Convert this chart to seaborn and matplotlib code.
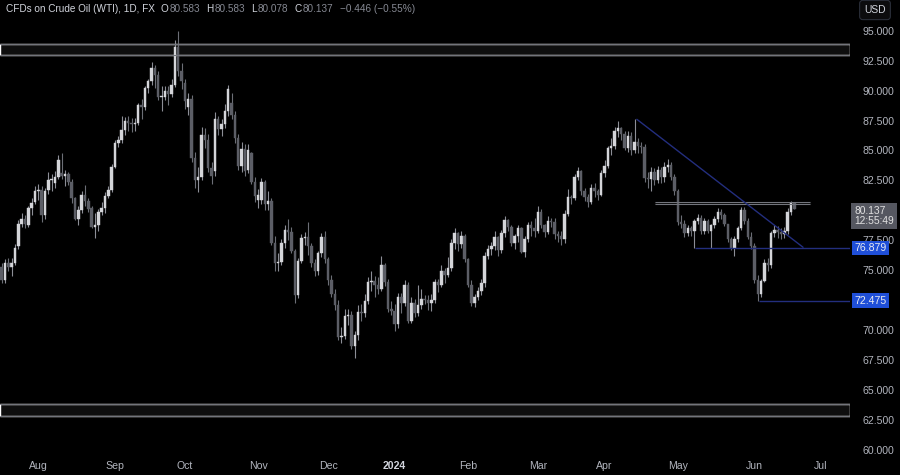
import numpy as np
import pandas as pd
import matplotlib
matplotlib.use("Agg")
import matplotlib.pyplot as plt
import seaborn as sns

# ---------------- data (daily OHLC, Jul 17 2023 -> Jun 19 2024) ----------------
opens = [
    # Jul
    75.3, 74.2, 75.6, 75.3, 75.6, 77.0, 78.9, 79.3, 78.8, 80.2, 80.7,
    # Aug
    81.6, 81.7, 79.6, 81.7, 82.5, 82.3, 82.8, 83.1, 82.9, 83.0, 82.4, 81.0, 79.3, 80.0, 81.3, 80.8, 80.2, 78.6, 78.8, 79.9, 80.2, 81.2, 81.7,
    # Sep
    83.6, 85.6, 85.9, 86.7, 87.5, 87.3, 87.2, 87.3, 88.8, 88.6, 90.2, 90.8, 91.9, 91.3, 89.5, 89.5, 90.0, 89.7, 90.5, 93.6, 91.6,
    # Oct
    90.6, 88.6, 89.3, 84.4, 82.5, 82.8, 86.3, 85.9, 83.5, 83.3, 87.6, 86.8, 87.2, 88.3, 89.0, 88.0, 86.0, 83.7, 85.1, 83.4, 84.8, 82.4,
    # Nov
    80.9, 80.9, 82.4, 80.5, 80.8, 77.3, 75.6, 75.7, 77.3, 78.4, 78.2, 76.6, 72.9, 75.8, 77.7, 77.8, 77.0, 75.6, 74.9, 76.4, 77.8,
    # Dec
    75.9, 74.2, 73.0, 72.1, 69.4, 69.5, 71.2, 71.3, 68.7, 69.6, 71.5, 71.4, 72.4, 74.0, 74.1, 73.8, 73.4, 75.4, 74.0, 71.8,
    # Jan
    71.6, 70.5, 72.8, 72.3, 73.8, 70.8, 72.3, 71.4, 72.1, 72.6, 72.5, 72.3, 72.5, 74.0, 73.8, 74.9, 74.6, 75.2, 77.3, 78.1, 77.2, 77.9,
    # Feb
    75.9, 73.8, 72.3, 72.8, 73.3, 73.9, 76.2, 76.8, 77.0, 77.8, 76.7, 78.1, 79.2, 78.6, 77.3, 77.9, 78.5, 76.5, 77.6, 78.8, 78.5,
    # Mar
    78.3, 79.9, 78.8, 78.2, 79.1, 79.0, 78.0, 77.9, 77.6, 79.7, 81.1, 81.0, 82.8, 83.3, 81.6, 81.1, 80.7, 81.9, 81.6, 81.3,
    # Apr
    83.1, 83.7, 85.2, 85.4, 86.6, 86.9, 86.4, 85.2, 86.2, 85.0, 85.7, 85.4, 85.3, 82.7, 82.6, 83.2, 82.5, 83.4, 82.8, 83.6, 83.8, 82.8,
    # May
    81.6, 79.0, 78.9, 78.1, 78.5, 78.3, 79.1, 79.4, 78.3, 79.1, 78.3, 78.8, 79.3, 79.9, 79.6, 78.9, 77.6, 76.9, 77.6, 78.5, 80.0, 79.1, 77.8,
    # Jun
    77.0, 74.2, 73.0, 74.1, 75.6, 75.4, 78.1, 78.4, 78.2, 78.0, 78.3, 79.9, 80.583,
]
highs = [
    75.6, 75.9, 76.0, 76.0, 77.2, 79.2, 79.8, 79.6, 80.4, 81.0, 82.0,
    82.2, 82.0, 81.9, 83.2, 83.0, 83.3, 84.6, 84.8, 83.4, 83.2, 82.6, 81.1, 80.4, 81.6, 82.1, 81.0, 80.4, 79.8, 80.1, 80.7, 81.5, 82.0, 83.9,
    85.9, 86.2, 87.9, 87.8, 87.9, 87.7, 87.7, 89.0, 89.3, 90.4, 91.0, 92.4, 92.1, 91.6, 90.4, 90.4, 90.4, 91.0, 94.2, 95.0, 92.3,
    91.0, 89.8, 89.6, 84.9, 83.6, 87.0, 86.9, 86.4, 84.0, 88.2, 87.9, 87.6, 88.9, 90.5, 89.8, 88.3, 86.4, 85.7, 85.5, 85.5, 84.9, 82.8,
    81.8, 82.7, 82.5, 81.6, 81.0, 77.9, 76.4, 77.6, 78.8, 79.3, 78.6, 76.8, 76.0, 78.0, 78.2, 79.0, 77.3, 75.9, 76.6, 78.1, 78.3,
    76.1, 74.6, 73.4, 72.5, 70.3, 71.8, 71.8, 71.6, 69.9, 72.1, 72.2, 73.0, 74.4, 74.9, 74.5, 74.4, 76.2, 75.6, 74.3, 72.4,
    72.2, 73.1, 73.1, 74.2, 74.0, 72.8, 72.6, 73.8, 73.4, 72.9, 72.9, 73.0, 74.3, 74.3, 75.4, 75.2, 76.1, 77.6, 78.5, 78.2, 78.3, 78.0,
    76.0, 74.2, 73.0, 73.6, 74.3, 76.5, 77.1, 77.4, 78.3, 77.9, 78.4, 79.5, 79.3, 78.8, 78.0, 78.8, 78.6, 77.9, 79.0, 79.1, 79.4,
    80.4, 80.1, 78.9, 79.5, 79.4, 79.4, 78.3, 78.3, 80.0, 81.8, 81.3, 83.0, 83.6, 83.4, 81.9, 81.4, 82.2, 82.3, 81.8, 83.4,
    84.2, 85.4, 86.0, 87.0, 87.5, 87.0, 86.6, 86.6, 86.5, 87.6, 86.0, 85.7, 85.5, 83.2, 83.6, 83.5, 83.7, 83.6, 84.0, 84.3, 84.0, 83.0,
    81.8, 79.6, 79.2, 78.8, 78.7, 79.3, 79.7, 79.6, 79.4, 79.3, 78.9, 79.5, 80.2, 80.1, 79.8, 78.9, 77.8, 77.9, 78.7, 80.3, 80.3, 79.4, 78.2,
    77.3, 74.6, 74.3, 75.9, 76.0, 78.3, 78.8, 78.7, 78.5, 78.6, 80.2, 80.75, 80.583,
]
lows = [
    73.9, 73.9, 74.9, 74.5, 75.4, 76.8, 78.6, 78.5, 78.6, 79.6, 80.5,
    80.9, 79.0, 79.3, 81.4, 81.6, 81.9, 82.6, 82.6, 82.0, 82.1, 80.6, 79.2, 78.8, 79.8, 80.4, 79.9, 78.5, 77.7, 78.3, 79.6, 79.8, 81.0, 81.5,
    83.5, 85.3, 85.6, 86.3, 86.6, 86.5, 86.6, 87.1, 87.6, 88.4, 89.8, 90.5, 90.2, 89.2, 88.3, 89.2, 88.8, 89.5, 90.3, 91.2, 90.1,
    88.5, 88.0, 84.0, 81.9, 81.5, 82.5, 85.2, 83.2, 82.2, 82.9, 86.3, 86.2, 86.9, 87.9, 87.6, 85.6, 83.4, 83.2, 82.9, 83.1, 82.2, 80.7,
    80.2, 80.5, 80.0, 80.0, 77.1, 74.9, 74.9, 75.4, 76.9, 77.5, 76.4, 72.3, 72.7, 75.6, 77.1, 76.3, 75.3, 74.5, 74.6, 76.1, 75.6,
    73.8, 72.8, 71.7, 69.2, 68.9, 69.3, 70.4, 68.4, 67.7, 69.2, 70.8, 71.1, 72.2, 73.3, 72.8, 73.0, 73.3, 73.7, 71.5, 71.3,
    69.9, 70.2, 71.4, 72.0, 70.6, 70.6, 71.1, 71.2, 71.8, 72.2, 71.7, 71.6, 72.3, 73.2, 73.6, 73.9, 74.4, 74.9, 76.8, 76.6, 76.9, 75.7,
    73.6, 72.0, 71.9, 72.5, 72.9, 73.6, 75.9, 76.3, 76.7, 76.2, 76.4, 77.8, 78.3, 77.0, 76.8, 77.4, 76.4, 76.1, 77.4, 77.9, 77.8,
    78.1, 78.5, 77.8, 78.0, 78.6, 77.6, 77.4, 77.1, 77.3, 79.5, 80.5, 80.9, 82.5, 81.3, 80.8, 80.3, 80.5, 81.1, 80.9, 81.2,
    82.8, 83.5, 84.6, 85.1, 86.1, 85.9, 85.0, 84.9, 84.6, 84.8, 84.8, 84.8, 82.4, 81.9, 81.6, 82.1, 82.3, 82.3, 82.4, 83.2, 82.5, 81.3,
    78.8, 78.5, 77.8, 77.9, 77.9, 76.9, 78.9, 78.0, 78.0, 78.1, 76.9, 78.5, 79.0, 79.3, 78.7, 77.4, 76.7, 76.2, 77.4, 78.4, 78.9, 77.6, 76.8,
    73.9, 72.475, 72.8, 74.0, 74.9, 75.2, 77.8, 77.7, 77.6, 77.7, 78.0, 79.6, 80.078,
]
closes = [
    74.2, 75.6, 75.3, 75.6, 76.9, 78.9, 79.3, 78.9, 80.2, 80.6, 81.6,
    81.7, 79.6, 81.6, 82.5, 82.6, 82.8, 84.2, 82.9, 83.0, 82.4, 81.0, 79.3, 80.0, 81.3, 80.8, 80.1, 78.6, 78.8, 79.9, 80.2, 81.2, 81.7, 83.6,
    85.6, 85.9, 86.7, 87.5, 87.3, 87.2, 87.3, 88.8, 88.6, 90.2, 90.8, 91.9, 91.3, 89.5, 89.5, 90.0, 89.7, 90.5, 93.6, 91.6, 90.8,
    89.1, 89.3, 84.4, 82.5, 82.8, 86.3, 85.9, 83.5, 82.9, 87.6, 86.8, 87.2, 88.3, 90.1, 88.0, 86.0, 83.7, 85.1, 83.3, 85.0, 82.4, 81.2,
    81.3, 82.4, 80.5, 80.8, 77.3, 75.6, 75.7, 77.3, 78.4, 78.2, 76.6, 72.9, 75.8, 77.7, 77.8, 77.0, 75.6, 74.9, 76.4, 77.8, 75.9,
    74.2, 73.0, 72.1, 69.4, 69.5, 71.2, 71.3, 68.7, 69.6, 71.5, 71.4, 72.4, 74.0, 74.1, 73.8, 73.4, 75.4, 74.0, 71.8, 71.6,
    70.5, 72.8, 72.3, 73.8, 70.8, 72.3, 71.4, 72.1, 72.6, 72.5, 72.3, 72.5, 74.0, 73.8, 74.9, 74.6, 75.2, 77.3, 78.1, 77.2, 77.9, 75.9,
    73.8, 72.3, 72.8, 73.3, 73.9, 76.2, 76.8, 77.0, 77.8, 76.7, 78.1, 79.2, 78.6, 77.3, 77.9, 78.5, 76.5, 77.6, 78.8, 78.5, 78.3,
    79.9, 78.8, 78.2, 79.1, 79.0, 78.0, 77.9, 77.6, 79.7, 81.1, 81.0, 82.8, 83.3, 81.6, 81.1, 80.7, 81.9, 81.6, 81.3, 83.1,
    83.7, 85.2, 85.4, 86.6, 86.9, 86.4, 85.2, 86.2, 85.0, 85.7, 85.4, 85.3, 82.7, 82.6, 83.2, 82.5, 83.4, 82.8, 83.6, 83.8, 82.8, 81.6,
    79.0, 78.9, 78.1, 78.5, 78.3, 79.1, 79.4, 78.3, 79.1, 78.3, 78.8, 79.3, 79.9, 79.6, 78.9, 77.6, 76.9, 77.6, 78.5, 80.0, 79.1, 77.8, 77.0,
    74.2, 73.0, 74.1, 75.6, 75.4, 78.1, 78.4, 78.2, 78.0, 78.3, 79.9, 80.583, 80.137,
]

start_date = "2023-07-17"
calendar_end = "2024-07-31"
closed_days = ["2023-11-23", "2023-12-25", "2024-01-01", "2024-03-29"]
month_labels = ["Aug", "Sep", "Oct", "Nov", "Dec", "2024", "Feb", "Mar", "Apr", "May", "Jun", "Jul"]
price_ticks = [60.0, 62.5, 65.0, 67.5, 70.0, 75.0, 77.5, 82.5, 85.0, 87.5, 90.0, 92.5, 95.0]

header_title = "CFDs on Crude Oil (WTI), 1D, FX"
header_fields = [("O", "80.583"), ("H", "80.583"), ("L", "80.078"), ("C", "80.137")]
header_change = "\u22120.446 (\u22120.55%)"
countdown = "12:55:49"

# drawings (price levels / trend line)
top_zone = (93.0, 93.9)
bottom_zone = (62.8, 63.87)
resist_zone = (80.5, 80.68)
resist_x = (196.3, 242.7)
trend_x = [190.7, 240.6]
trend_y = [87.6, 76.92]
level_hi = 76.879
level_hi_x0 = 208.3
level_lo = 72.475
level_lo_x0 = 227.3
last_price = 80.137

# ---------------- style ----------------
sns.set_theme(style="dark", rc={
    "figure.facecolor": "#000000",
    "axes.facecolor": "#000000",
    "axes.edgecolor": "#000000",
    "axes.grid": False,
})
plt.rcParams["font.family"] = ["Liberation Sans", "DejaVu Sans"]

TXT = "#b2b5be"
UP_BODY = "#d4d5d9"
UP_WICK = "#8c8e96"
DN_BODY = "#5c5e66"
DN_WICK = "#6c6e76"
NAVY = "#232e7e"
ZONE_LINE = "#73757c"
ZONE_FILL = "#0e0e0e"

cal = pd.bdate_range(start_date, calendar_end)
cal = cal[~cal.isin(pd.to_datetime(closed_days))]
n = len(closes)
df = pd.DataFrame({"open": opens, "high": highs, "low": lows, "close": closes})
df["x"] = np.arange(n)
df["date"] = cal[:n]
df["up"] = df["close"] >= df["open"]

fig = plt.figure(figsize=(9, 4.75), dpi=100)
ax = fig.add_axes([0, 20 / 475, 850 / 900, 455 / 475])
ax.set_facecolor("#000000")

# zones
for lo, hi in (top_zone, bottom_zone):
    ax.axhspan(lo, hi, facecolor=ZONE_FILL, zorder=0.5)
    ax.axhline(lo, color=ZONE_LINE, lw=0.75, zorder=3)
    ax.axhline(hi, color=ZONE_LINE, lw=0.75, zorder=3)
ax.fill_between(resist_x, resist_zone[0], resist_zone[1], color=ZONE_FILL, zorder=0.5)
ax.hlines(list(resist_zone), resist_x[0], resist_x[1], color=ZONE_LINE, lw=0.75, zorder=3)

# candles
for up, wc, bc in ((True, UP_WICK, UP_BODY), (False, DN_WICK, DN_BODY)):
    d = df[df["up"] == up]
    ax.vlines(d["x"], d["low"], d["high"], color=wc, lw=0.8, zorder=2)
    h = (d["close"] - d["open"]).abs().clip(lower=0.06)
    ax.bar(d["x"], h, bottom=d[["open", "close"]].min(axis=1), width=0.74,
           color=bc, edgecolor=bc, linewidth=0.3, zorder=2.5)

# navy drawings
ax.plot(trend_x, trend_y, color=NAVY, lw=1.0, zorder=3)
ax.hlines(level_hi, level_hi_x0, 300, color=NAVY, lw=1.0, zorder=3)
ax.hlines(level_lo, level_lo_x0, 300, color=NAVY, lw=1.0, zorder=3)

# axes limits & ticks
ax.set_xlim(-0.51, 254.7)
ax.set_ylim(59.58, 97.56)
for s in ax.spines.values():
    s.set_visible(False)

ax.yaxis.tick_right()
ax.set_yticks(price_ticks)
ax.set_yticklabels([f"{v:.3f}" for v in price_ticks])
ax.tick_params(axis="y", length=0, pad=9, labelsize=7.6, labelcolor=TXT)
for lab in ax.get_yticklabels():
    if lab.get_text() == "77.500":
        lab.set_y(77.62)

pos = pd.Series(np.arange(len(cal)), index=cal)
firsts = pos.groupby([cal.year, cal.month]).first().values[1:1 + len(month_labels)]
ax.set_xticks(firsts)
ax.set_xticklabels(month_labels)
ax.tick_params(axis="x", length=0, pad=4, labelsize=7.6, labelcolor=TXT)
for lab in ax.get_xticklabels():
    if lab.get_text() == "2024":
        lab.set_fontweight("bold")
        lab.set_color("#d1d4dc")

# right-side price labels
tr = ax.get_yaxis_transform()
for lvl in (level_hi, level_lo):
    ax.text(1.005, lvl, f"{lvl:.3f}", transform=tr, ha="left", va="center",
            fontsize=7.6, color="#e8eaf0", zorder=10, clip_on=False,
            bbox=dict(boxstyle="square,pad=0.2", facecolor="#1f4fd8", edgecolor="none"))
ax.text(1.005, last_price - 0.62, f"{last_price:.3f}\n{countdown}", transform=tr, ha="left", va="center",
        fontsize=7.4, color="#e0e0e0", zorder=10, clip_on=False, linespacing=1.05,
        bbox=dict(boxstyle="square,pad=0.3", facecolor="#555760", edgecolor="none"))

# header legend, placed token by token
fig.canvas.draw()
renderer = fig.canvas.get_renderer()
Y = 1 - 9 / 475
tokens = [(header_title, "#d1d4dc", 6)]
for k, v in header_fields:
    tokens.append((k, "#d1d4dc", 6))
    tokens.append((v, "#868993", 1))
tokens.append((header_change, "#868993", 7))
xpix = 6
for i, (t, c, gap) in enumerate(tokens):
    if i > 0:
        xpix += gap
    tt = fig.text(xpix / 900, Y, t, color=c, fontsize=7.2, va="center")
    bb = tt.get_window_extent(renderer)
    xpix = bb.x1

fig.text(875 / 900, 1 - 10 / 475, "USD", color="#d1d4dc", fontsize=7.4, ha="center", va="center",
         bbox=dict(boxstyle="round,pad=0.45,rounding_size=0.3", facecolor="#0c0c0e", edgecolor="#2a2e39", lw=0.8))

fig.savefig("out.png", dpi=100, facecolor="#000000")
